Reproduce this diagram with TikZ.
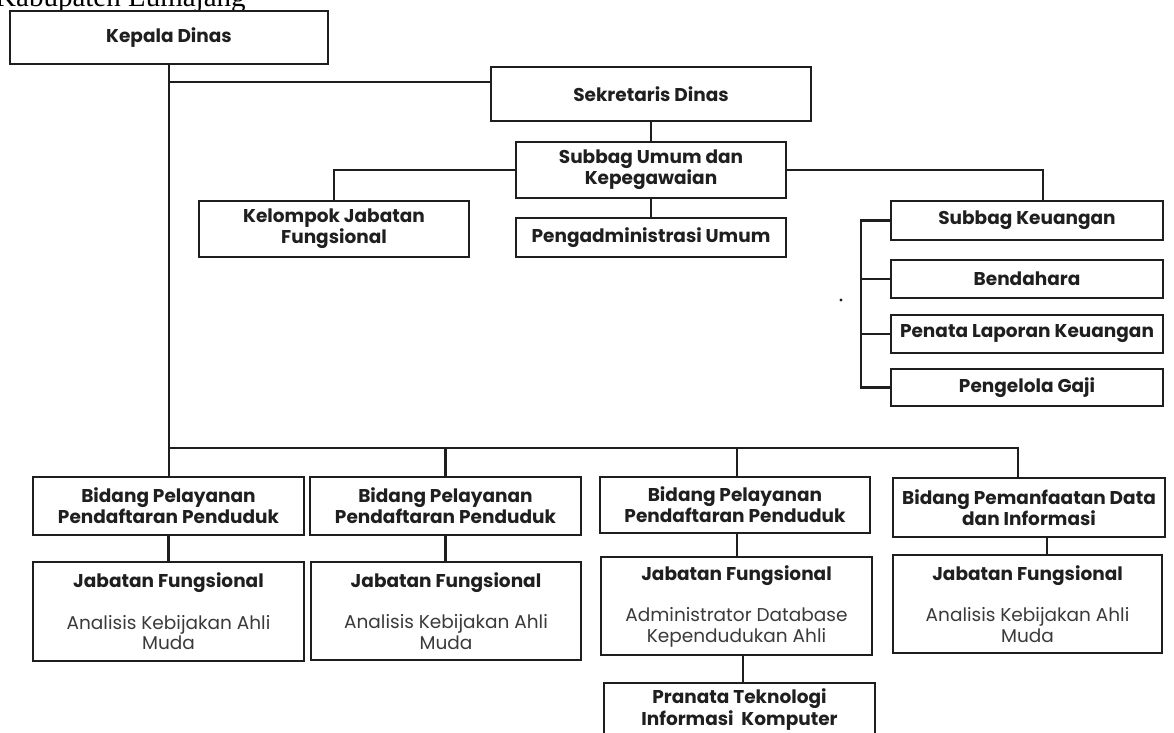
\documentclass[tikz,border=0pt]{standalone}
\usepackage{fontspec}
\setmainfont{Poppins}
\newfontfamily\headserif{Liberation Serif}
\definecolor{lineblack}{HTML}{1E1E1E}
\definecolor{textblack}{HTML}{1F1F1F}
\definecolor{bodygray}{HTML}{3A3A3A}
\tikzset{
  box/.style={draw=lineblack, line width=2.6pt, fill=white, inner sep=0pt, align=center,
    text=textblack, font=\bfseries\fontsize{18.5}{21}\selectfont},
  jbox/.style={box, font=\fontsize{18.5}{20.5}\selectfont},
  link/.style={draw=lineblack, line width=2.4pt},
}
\begin{document}
\begin{tikzpicture}[x=1pt,y=-1pt]
\useasboundingbox (0,0) rectangle (1174,732);
\clip (0,0) rectangle (1174,732);
\fill[white] (0,0) rectangle (1174,732);

% title (cut off at top)
\node[anchor=base west, inner sep=0pt, font=\headserif\fontsize{29}{29}\selectfont] (title) at (-5,6) {Kabupaten Lumajang};

% coordinates for connector bends
\coordinate (tk) at (169,82);
\coordinate (skd) at (1043,201);
\coordinate (brk) at (861,0);
\coordinate (bus) at (0,448);
\coordinate (b4d) at (1018,448);
\coordinate (j3d) at (737,0);
\coordinate (j4d) at (1047,0);
\coordinate (prd) at (743,0);

% boxes
\node[box, minimum width=318pt, minimum height=53pt] (kd) at (169,37.5) {Kepala Dinas};
\node[box, minimum width=320pt, minimum height=54pt] (sd) at (651,94) {Sekretaris Dinas};
\node[box, minimum width=270pt, minimum height=56pt] (su) at (651,170) {Subbag Umum dan\\Kepegawaian};
\node[box, minimum width=270pt, minimum height=56pt] (kjf) at (334,229) {Kelompok Jabatan\\Fungsional};
\node[box, minimum width=270pt, minimum height=39pt] (pu) at (651,237.5) {Pengadministrasi Umum};
\node[box, minimum width=272pt, minimum height=39pt] (sk) at (1027,220.5) {Subbag Keuangan};
\node[box, minimum width=272pt, minimum height=38pt] (bh) at (1027,279) {Bendahara};
\node[box, minimum width=272pt, minimum height=38pt] (pl) at (1027,334) {Penata Laporan Keuangan};
\node[box, minimum width=272pt, minimum height=37pt] (pg) at (1027,387.5) {Pengelola Gaji};

\node[box, minimum width=271pt, minimum height=58pt] (b1) at (168.5,506) {Bidang Pelayanan\\Pendaftaran Penduduk};
\node[box, minimum width=271pt, minimum height=58pt] (b2) at (445.5,506) {Bidang Pelayanan\\Pendaftaran Penduduk};
\node[box, minimum width=270pt, minimum height=56pt] (b3) at (735,505) {Bidang Pelayanan\\Pendaftaran Penduduk};
\node[box, minimum width=272pt, minimum height=59pt] (b4) at (1029,507.5) {Bidang Pemanfaatan Data\\dan Informasi};

\node[jbox, minimum width=271pt, minimum height=99pt] (j1) at (168.5,611.5) {\textbf{Jabatan Fungsional}\\[21pt]\textcolor{bodygray}{Analisis Kebijakan Ahli}\\\textcolor{bodygray}{Muda}};
\node[jbox, minimum width=270pt, minimum height=98pt] (j2) at (446,611) {\textbf{Jabatan Fungsional}\\[21pt]\textcolor{bodygray}{Analisis Kebijakan Ahli}\\\textcolor{bodygray}{Muda}};
\node[jbox, minimum width=271pt, minimum height=98pt] (j3) at (736.5,606) {\textbf{Jabatan Fungsional}\\[21pt]\textcolor{bodygray}{Administrator Database}\\\textcolor{bodygray}{Kependudukan Ahli}};
\node[jbox, minimum width=269pt, minimum height=98pt] (j4) at (1027.5,604) {\textbf{Jabatan Fungsional}\\[21pt]\textcolor{bodygray}{Analisis Kebijakan Ahli}\\\textcolor{bodygray}{Muda}};
\node[box, minimum width=271pt, minimum height=54pt, font=\bfseries\fontsize{18.5}{22}\selectfont] (pr) at (739.5,710) {Pranata Teknologi\\Informasi\ \ Komputer};

% connectors
\draw[link] (kd.south) -- (kd.south |- b1.north);
\draw[link] (tk) -- (tk -| sd.west);
\draw[link] (sd.south) -- (su.north);
\draw[link] (su.west) -| (kjf.north);
\draw[link] (su.east) -| (skd);
\draw[link] (su.south) -- (pu.north);
\draw[link] (sk.west) -- (sk.west -| brk) |- (pg.west);
\draw[link] (bh.west) -- (bh.west -| brk);
\draw[link] (pl.west) -- (pl.west -| brk);

\draw[link] (kd.south |- bus) -- (b4d) -- (b4d |- b4.north);
\draw[link] (b2.north |- bus) -- (b2.north);
\draw[link] (j3d |- bus) -- (j3d |- b3.north);

\draw[link] (b1.south) -- (b1.south |- j1.north);
\draw[link] (b2.south) -- (b2.south |- j2.north);
\draw[link] (j3d |- b3.south) -- (j3d |- j3.north);
\draw[link] (j4d |- b4.south) -- (j4d |- j4.north);
\draw[link] (prd |- j3.south) -- (prd |- pr.north);

% stray dot
\fill[lineblack] (841,300) circle (1.6pt);
\end{tikzpicture}
\end{document}
